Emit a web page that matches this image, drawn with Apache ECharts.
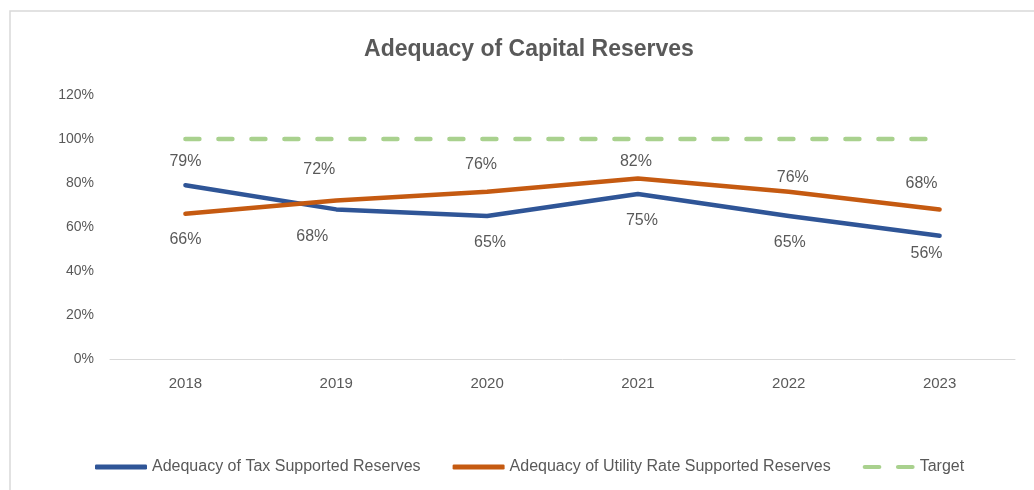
<!DOCTYPE html>
<html>
<head>
<meta charset="utf-8">
<script src="https://cdn.jsdelivr.net/npm/echarts@6/dist/echarts.min.js"></script>
<style>html,body{margin:0;padding:0;background:#fff;}#c{width:1034px;height:490px;}</style>
</head>
<body>
<div id="c"></div>
<script>
const categories = ['2018', '2019', '2020', '2021', '2022', '2023'];
const taxSupported = [79, 68, 65, 75, 65, 56];
const utilityRate = [66, 72, 76, 82, 76, 68];
const target = [100, 100, 100, 100, 100, 100];
const seriesNames = ['Adequacy of Tax Supported Reserves', 'Adequacy of Utility Rate Supported Reserves', 'Target'];
// data label nudges (style only), as placed in the original chart
const taxLabelOffsets = [[0, -24], [-24, 27], [3, 27], [4, 27], [1, 27], [-13, 18]];
const utilLabelOffsets = [[0, 26], [-17, -31], [-6, -27], [-2, -17], [4, -14], [-18, -26]];

const FONT = '"Liberation Sans", Arial, sans-serif';
const TXT = '#595959';

function withLabels(vals, offs) {
  return vals.map((v, i) => ({
    value: v,
    label: { position: 'inside', offset: offs[i] }
  }));
}

const chart = echarts.init(document.getElementById('c'), null, { renderer: 'canvas' });
chart.setOption({
  animation: false,
  backgroundColor: '#ffffff',
  graphic: [{
    type: 'rect', shape: { x: 10, y: 11, width: 1100, height: 600 },
    style: { fill: 'none', stroke: '#d9d9d9', lineWidth: 1.5 }, silent: true, z: -1
  }],
  title: {
    text: 'Adequacy of Capital Reserves',
    left: 524, textAlign: 'center', top: 33,
    textStyle: { fontFamily: FONT, fontSize: 23, fontWeight: 'bold', color: TXT }
  },
  grid: { left: 110, right: 19, top: 95, bottom: 131, containLabel: false },
  xAxis: {
    type: 'category', data: categories, boundaryGap: true,
    axisLine: { show: true, lineStyle: { color: '#d9d9d9', width: 1 } },
    axisTick: { show: false },
    axisLabel: { fontFamily: FONT, fontSize: 15, color: TXT, margin: 17 }
  },
  yAxis: {
    type: 'value', min: 0, max: 120, interval: 20,
    axisLine: { show: false }, axisTick: { show: false },
    splitLine: { show: false },
    axisLabel: { fontFamily: FONT, fontSize: 14, color: TXT, margin: 16, formatter: '{value}%' }
  },
  legend: {
    left: 90, top: 454, itemWidth: 52, itemHeight: 5, itemGap: 32,
    textStyle: { fontFamily: FONT, fontSize: 16, color: TXT },
    data: [
      { name: seriesNames[0], icon: 'roundRect' },
      { name: seriesNames[1], icon: 'roundRect' },
      { name: seriesNames[2], icon: 'path://M2,0H16A2,2 0 0 1 16,4H2A2,2 0 0 1 2,0Z M34,0H48A2,2 0 0 1 48,4H34A2,2 0 0 1 34,0Z' }
    ]
  },
  series: [
    {
      name: seriesNames[0], type: 'line', data: withLabels(taxSupported, taxLabelOffsets),
      symbol: 'circle', symbolSize: 0, showSymbol: true,
      lineStyle: { color: '#2f5597', width: 4.5, cap: 'round', join: 'round' },
      itemStyle: { color: '#2f5597' },
      label: { show: true, formatter: '{c}%', fontFamily: FONT, fontSize: 16, color: TXT }
    },
    {
      name: seriesNames[1], type: 'line', data: withLabels(utilityRate, utilLabelOffsets),
      symbol: 'circle', symbolSize: 0, showSymbol: true,
      lineStyle: { color: '#c55a11', width: 4.5, cap: 'round', join: 'round' },
      itemStyle: { color: '#c55a11' },
      label: { show: true, formatter: '{c}%', fontFamily: FONT, fontSize: 16, color: TXT }
    },
    {
      name: seriesNames[2], type: 'line', data: target,
      symbol: 'none', lineStyle: { color: '#a9d18e', width: 4.5, type: [14, 19], cap: 'round' },
      itemStyle: { color: '#a9d18e' }
    }
  ]
});
</script>
</body>
</html>
